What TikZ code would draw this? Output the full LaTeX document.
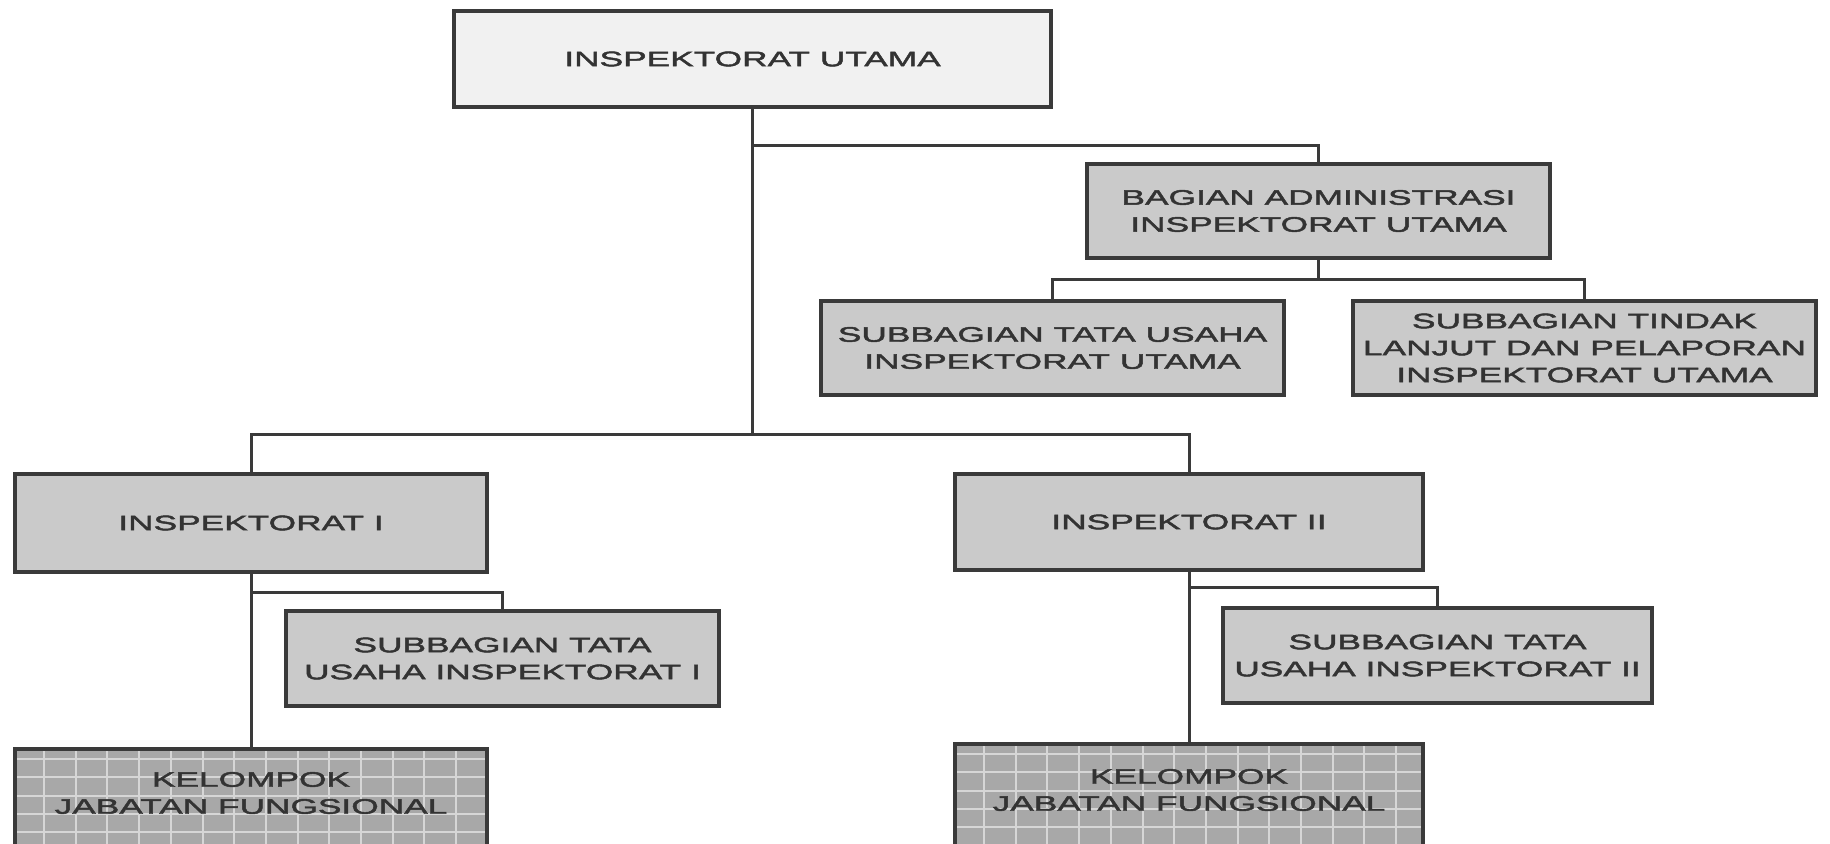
\documentclass[tikz,border=0pt]{standalone}
\usepackage{fontspec}
\setmainfont{Liberation Sans}[FakeStretch=1.68, FakeBold=2.2]
\definecolor{edgegrey}{HTML}{3A3A3A}
\definecolor{textgrey}{HTML}{333333}
\definecolor{topfill}{HTML}{F1F1F1}
\definecolor{midfill}{HTML}{CACACA}
\definecolor{kelfill}{HTML}{A8A8A8}
\definecolor{gridgrey}{HTML}{D6D6D6}
\begin{document}
\begin{tikzpicture}[x=1pt,y=-1pt,
  orgbox/.style={draw=edgegrey, line width=3.5pt, inner sep=0pt, align=center,
    text=textgrey, font=\fontsize{21}{27}\selectfont, fill=midfill},
  link/.style={draw=edgegrey, line width=3pt},
  gridline/.style={draw=gridgrey, line width=2pt},
  kelbox/.style={orgbox, fill=kelfill, path picture={
    \foreach \i in {0,...,15}
      \draw[gridline] ([xshift={29pt+\i*31.7pt}]path picture bounding box.north west) -- ++(0pt,-160pt);
    \foreach \j in {0,...,6}
      \draw[gridline] ([yshift={-10pt-\j*18.3pt}]path picture bounding box.north west) -- ++(520pt,0pt);
  }},
  keltext/.style={text=textgrey, align=center, font=\fontsize{21}{27}\selectfont, inner sep=0pt}]
\useasboundingbox (0,0) rectangle (1830,843);
\clip (0,0) rectangle (1830,843);
\fill[white] (0,0) rectangle (1830,843);

% boxes
\node[orgbox, fill=topfill, minimum width=597pt, minimum height=96pt] (utama) at (752.5,59) {INSPEKTORAT UTAMA};
\node[orgbox, minimum width=463pt, minimum height=94pt] (bagian) at (1318.5,211) {BAGIAN ADMINISTRASI\\INSPEKTORAT UTAMA};
\node[orgbox, minimum width=463pt, minimum height=94pt] (sbtu) at (1052.5,348) {SUBBAGIAN TATA USAHA\\INSPEKTORAT UTAMA};
\node[orgbox, minimum width=463pt, minimum height=94pt] (sbtl) at (1584.5,348) {SUBBAGIAN TINDAK\\LANJUT DAN PELAPORAN\\INSPEKTORAT UTAMA};
\node[orgbox, minimum width=472pt, minimum height=98pt] (insp1) at (251,523) {INSPEKTORAT I};
\node[orgbox, minimum width=468pt, minimum height=96pt] (insp2) at (1189,522) {INSPEKTORAT II};
\node[orgbox, minimum width=433pt, minimum height=95pt] (sb1) at (502.5,658.5) {SUBBAGIAN TATA\\USAHA INSPEKTORAT I};
\node[orgbox, minimum width=429pt, minimum height=95pt] (sb2) at (1437.5,655.5) {SUBBAGIAN TATA\\USAHA INSPEKTORAT II};
\node[kelbox, minimum width=472pt, minimum height=99pt] (kel1) at (251,798.5) {};
\node[kelbox, minimum width=468pt, minimum height=104pt] (kel2) at (1189,796) {};
\node[keltext] (kel1t) at (251,793) {KELOMPOK\\JABATAN FUNGSIONAL};
\node[keltext] (kel2t) at (1189,790) {KELOMPOK\\JABATAN FUNGSIONAL};

% connectors
\draw[link] (utama.south) -- ++(0,37) -| (bagian.north);
\draw[link] (utama.south) -- ++(0,326) coordinate (hub);
\draw[link] (insp1.north) |- (hub) -| (insp2.north);
\draw[link] (bagian.south) -- ++(0,20) coordinate (bhub);
\draw[link] (sbtu.north) |- (bhub) -| (sbtl.north);
\draw[link] (insp1.south) -- (kel1.north);
\draw[link] (insp1.south) ++(0,19) -| (sb1.north);
\draw[link] (insp2.south) -- (kel2.north);
\draw[link] (insp2.south) ++(0,16) -| (sb2.north);
\end{tikzpicture}
\end{document}
